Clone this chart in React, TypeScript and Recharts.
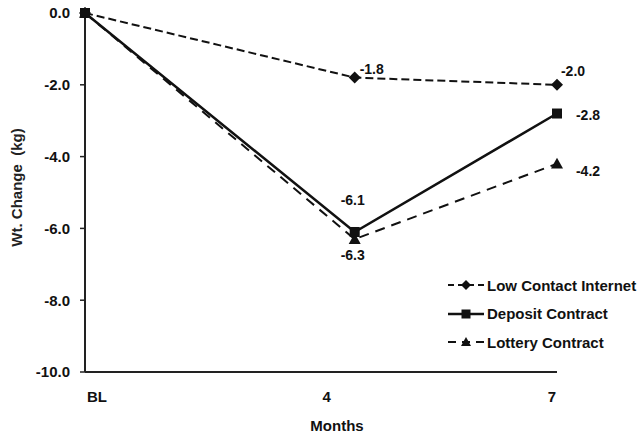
import React from 'react'
import {
  LineChart,
  Line,
  XAxis,
  YAxis,
  LabelList,
} from 'recharts'

const monthLabels = ['BL', '4', '7']
const monthValues = [0, 4, 7]
const lowContact = [0, -1.8, -2.0]
const deposit = [0, -6.1, -2.8]
const lottery = [0, -6.3, -4.2]
const yTicks = [0, -2, -4, -6, -8, -10]

const data = monthValues.map((m, i) => ({
  month: m,
  label: monthLabels[i],
  low: lowContact[i],
  deposit: deposit[i],
  lottery: lottery[i],
}))

const FONT = '"Liberation Sans", Arial, sans-serif'
const INK = '#111'

function Diamond({ cx, cy, size = 6 }: any) {
  if (cx == null || cy == null) return null
  const r = size
  return <polygon points={`${cx},${cy - r} ${cx + r},${cy} ${cx},${cy + r} ${cx - r},${cy}`} fill={INK} />
}
function Square({ cx, cy, size = 5 }: any) {
  if (cx == null || cy == null) return null
  const r = size
  return <rect x={cx - r} y={cy - r} width={r * 2} height={r * 2} fill={INK} />
}
function Triangle({ cx, cy, size = 6 }: any) {
  if (cx == null || cy == null) return null
  const r = size
  return <polygon points={`${cx},${cy - r} ${cx + r},${cy + r * 0.8} ${cx - r},${cy + r * 0.8}`} fill={INK} />
}

// where each value label sits relative to its point
const labelOffsets: Record<string, [number, number][]> = {
  low: [[0, 0], [17, -9], [16, -14]],
  deposit: [[0, 0], [-2, -32], [31, 1]],
  lottery: [[0, 0], [-2, 16], [31, 7]],
}

const makeLabel = (key: string) => (props: any) => {
  const { x, y, value, index } = props
  if (index === 0) return null
  const [dx, dy] = labelOffsets[key][index]
  return (
    <text
      x={x + dx}
      y={y + dy}
      textAnchor="middle"
      dominantBaseline="central"
      fontFamily={FONT}
      fontWeight="bold"
      fontSize={14}
      fill={INK}
    >
      {Number(value).toFixed(1)}
    </text>
  )
}

const xTickShift: Record<string, number> = { BL: 12, '4': -28, '7': -5 }

function XTick({ x, y, payload }: any) {
  const i = monthValues.indexOf(payload.value)
  const lbl = monthLabels[i]
  return (
    <text
      x={x + (xTickShift[lbl] ?? 0)}
      y={y + 16}
      textAnchor="middle"
      dominantBaseline="central"
      fontFamily={FONT}
      fontWeight="bold"
      fontSize={15}
      fill={INK}
    >
      {lbl}
    </text>
  )
}

const legendItems = [
  { name: 'Low Contact Internet', dash: '6 4', width: 2, Marker: Diamond, size: 5 },
  { name: 'Deposit Contract', dash: undefined, width: 2.5, Marker: Square, size: 4.5 },
  { name: 'Lottery Contract', dash: '8 6', width: 2, Marker: Triangle, size: 5 },
]

function LegendBox() {
  return (
    <div
      style={{
        position: 'absolute',
        left: 446,
        top: 271,
        fontFamily: FONT,
        fontWeight: 'bold',
        fontSize: 15,
        color: INK,
      }}
    >
      {legendItems.map((it) => (
        <div key={it.name} style={{ display: 'flex', alignItems: 'center', height: 28.5 }}>
          <svg width={40} height={16}>
            <line x1={2} y1={8} x2={38} y2={8} stroke={INK} strokeWidth={it.width} strokeDasharray={it.dash} />
            <it.Marker cx={20} cy={8} size={it.size} />
          </svg>
          <span style={{ marginLeft: 1, whiteSpace: 'nowrap' }}>{it.name}</span>
        </div>
      ))}
    </div>
  )
}

export default function App() {
  return (
    <div style={{ position: 'absolute', left: 0, top: 0, width: 643, height: 438, background: '#fff' }}>
      <LineChart width={643} height={438} data={data} margin={{ top: 13, right: 86, bottom: 0, left: 10 }}>
        <XAxis
          dataKey="month"
          type="number"
          domain={[0, 7]}
          ticks={monthValues}
          height={66}
          tickLine={false}
          axisLine={{ stroke: '#222', strokeWidth: 2 }}
          tick={<XTick />}
          label={{
            content: ({ viewBox }: any) => (
              <text
                x={viewBox.x + viewBox.width / 2 + 16}
                y={viewBox.y + 53}
                textAnchor="middle"
                dominantBaseline="central"
                fontFamily={FONT}
                fontWeight="bold"
                fontSize={15}
                fill={INK}
              >
                Months
              </text>
            ),
          }}
        />
        <YAxis
          type="number"
          domain={[-10, 0]}
          ticks={yTicks}
          width={75}
          tickSize={5}
          tickMargin={10}
          tickLine={{ stroke: '#222', strokeWidth: 1.5 }}
          axisLine={{ stroke: '#222', strokeWidth: 2 }}
          tickFormatter={(v: number) => v.toFixed(1)}
          tick={{ fontFamily: FONT, fontWeight: 'bold', fontSize: 15, fill: INK }}
          label={{
            content: ({ viewBox }: any) => {
              const cx = 16
              const cy = viewBox.y + viewBox.height / 2 - 5
              return (
                <text
                  x={cx}
                  y={cy}
                  transform={`rotate(-90 ${cx} ${cy})`}
                  textAnchor="middle"
                  dominantBaseline="central"
                  fontFamily={FONT}
                  fontWeight="bold"
                  fontSize={15}
                  fill="#222"
                  style={{ whiteSpace: 'pre' }}
                >
                  {'Wt. Change  (kg)'}
                </text>
              )
            },
          }}
        />
        <Line
          dataKey="lottery"
          name="Lottery Contract"
          stroke={INK}
          strokeWidth={2}
          strokeDasharray="10 7"
          dot={<Triangle size={6} />}
          activeDot={false}
          isAnimationActive={false}
        >
          <LabelList dataKey="lottery" content={makeLabel('lottery')} />
        </Line>
        <Line
          dataKey="deposit"
          name="Deposit Contract"
          stroke={INK}
          strokeWidth={2.5}
          dot={<Square size={5} />}
          activeDot={false}
          isAnimationActive={false}
        >
          <LabelList dataKey="deposit" content={makeLabel('deposit')} />
        </Line>
        <Line
          dataKey="low"
          name="Low Contact Internet"
          stroke={INK}
          strokeWidth={2}
          strokeDasharray="8 4"
          dot={<Diamond size={6} />}
          activeDot={false}
          isAnimationActive={false}
        >
          <LabelList dataKey="low" content={makeLabel('low')} />
        </Line>
      </LineChart>
      <LegendBox />
    </div>
  )
}
